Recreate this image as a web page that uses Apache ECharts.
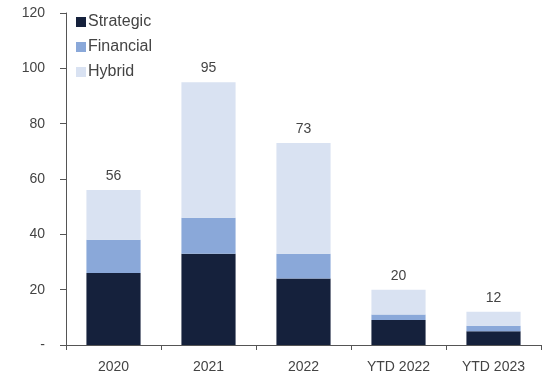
<!DOCTYPE html>
<html><head><meta charset="utf-8">
<script src="https://cdn.jsdelivr.net/npm/echarts@6/dist/echarts.min.js"></script>
<style>html,body{margin:0;padding:0;background:#fff}#c{width:554px;height:378px}</style>
</head><body><div id="c"></div>
<script>
const categories = ['2020', '2021', '2022', 'YTD 2022', 'YTD 2023'];
const strategic = [26, 33, 24, 9, 5];
const financial = [12, 13, 9, 2, 2];
const hybrid = [18, 49, 40, 9, 5];
const totals = categories.map((_, i) => strategic[i] + financial[i] + hybrid[i]);

const font = 'Liberation Sans, Arial, sans-serif';
const txt = '#444';
const chart = echarts.init(document.getElementById('c'));
chart.setOption({
  animation: false,
  textStyle: { fontFamily: font },
  grid: { left: 66, right: 13, top: 13, bottom: 33 },
  legend: {
    orient: 'vertical', left: 71, top: 9, itemGap: 9,
    itemWidth: 10, itemHeight: 10, icon: 'rect',
    textStyle: { fontFamily: font, fontSize: 16, color: txt, padding: [0, 0, 0, -3] },
    data: ['Strategic', 'Financial', 'Hybrid']
  },
  xAxis: {
    type: 'category', data: categories,
    axisLine: { lineStyle: { color: '#555', width: 1 } },
    axisTick: { show: true, length: 5, lineStyle: { color: '#555' } },
    axisLabel: { fontFamily: font, fontSize: 14, color: txt, margin: 15 }
  },
  yAxis: {
    type: 'value', min: 0, max: 120, interval: 20,
    splitLine: { show: false },
    axisLine: { show: true, lineStyle: { color: '#555', width: 1 } },
    axisTick: { show: true, length: 6, lineStyle: { color: '#555' } },
    axisLabel: { fontFamily: font, fontSize: 14, color: txt, margin: 21,
      formatter: v => v === 0 ? '-' : v }
  },
  series: [
    { name: 'Strategic', type: 'bar', stack: 'a', barWidth: '57%', data: strategic,
      itemStyle: { color: '#15213c' } },
    { name: 'Financial', type: 'bar', stack: 'a', data: financial,
      itemStyle: { color: '#8aa8d9' } },
    { name: 'Hybrid', type: 'bar', stack: 'a', data: hybrid,
      itemStyle: { color: '#d9e2f2' },
      label: { show: true, position: 'top', distance: 7, fontFamily: font, fontSize: 14, color: txt,
        formatter: p => totals[p.dataIndex] } }
  ]
});
</script></body></html>
